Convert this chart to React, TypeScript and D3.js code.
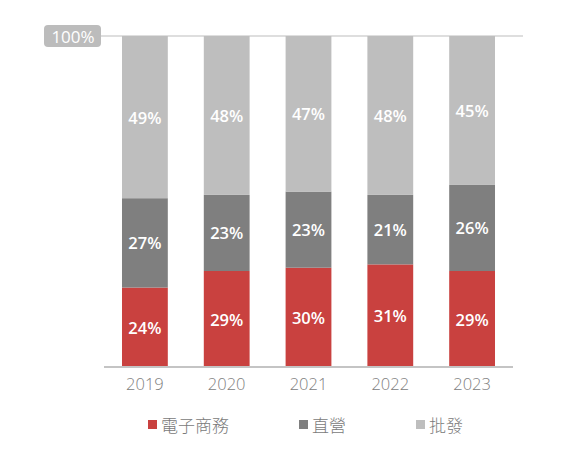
import React from "react";
import * as d3 from "d3";

const years = ["2019", "2020", "2021", "2022", "2023"];
const ecommerce = [24, 29, 30, 31, 29];
const direct = [27, 23, 23, 21, 26];
const wholesale = [49, 48, 47, 48, 45];
const seriesNames = ["電子商務", "直營", "批發"];
const seriesColors = ["#c9413f", "#7f7f7f", "#bebebe"];

const W = 574;
const H = 450;

export default function App() {
  const x = d3.scaleBand<string>().domain(years).range([104, 513]).paddingInner(0.44).paddingOuter(0.22);
  const y = d3.scaleLinear().domain([0, 100]).range([367, 36]);

  const rows = years.map((yr, i) => ({ year: yr, e: ecommerce[i], d: direct[i], w: wholesale[i] }));
  const stack = d3.stack<any>().keys(["e", "d", "w"]);
  const layers = stack(rows);

  const font = "'Noto Sans CJK TC', 'Noto Sans', sans-serif";
  const legendX = [148, 299, 416];

  return (
    <svg width={W} height={H} style={{ position: "absolute", left: 0, top: 0, background: "#fff" }} fontFamily={font}>
      {layers.map((layer, li) => (
        <g key={li}>
          {layer.map((seg, i) => {
            const x0 = x(years[i])!;
            const y0 = y(seg[1]);
            const y1 = y(seg[0]);
            const val = seg[1] - seg[0];
            return (
              <g key={i}>
                <rect x={x0} y={y0} width={x.bandwidth()} height={y1 - y0} fill={seriesColors[li]} />
                <text
                  x={x0 + x.bandwidth() / 2}
                  y={(y0 + y1) / 2}
                  textAnchor="middle"
                  dominantBaseline="central"
                  fill="#fff"
                  fontSize={16.5}
                  fontWeight={600}
                  fontFamily="'Open Sans', 'Noto Sans', sans-serif"
                >
                  {val}%
                </text>
              </g>
            );
          })}
        </g>
      ))}
      <line x1={100} x2={523} y1={y(100)} y2={y(100)} stroke="#bdbdbd" strokeWidth={1.2} />
      <line x1={104} x2={513} y1={y(0)} y2={y(0)} stroke="#c4c4c4" strokeWidth={2} />
      <rect x={44} y={25} width={57} height={22} rx={4} fill="#bcbcbc" />
      <text x={73} y={36.5} textAnchor="middle" dominantBaseline="central" fill="#fff" fontSize={17} fontFamily="'Open Sans', 'Noto Sans', sans-serif">
        100%
      </text>
      {years.map((yr) => (
        <text
          key={yr}
          x={x(yr)! + x.bandwidth() / 2}
          y={383}
          textAnchor="middle"
          dominantBaseline="central"
          fill="#808080"
          fontSize={16.5}
          fontWeight={300}
          fontFamily="'Open Sans', 'Noto Sans', sans-serif"
        >
          {yr}
        </text>
      ))}
      {seriesNames.map((name, i) => (
        <g key={name}>
          <rect x={legendX[i]} y={420} width={9} height={9} fill={seriesColors[i]} />
          <text x={legendX[i] + 13} y={424.5} dominantBaseline="central" fill="#7a7a7a" fontSize={17} fontWeight={300}>
            {name}
          </text>
        </g>
      ))}
    </svg>
  );
}
